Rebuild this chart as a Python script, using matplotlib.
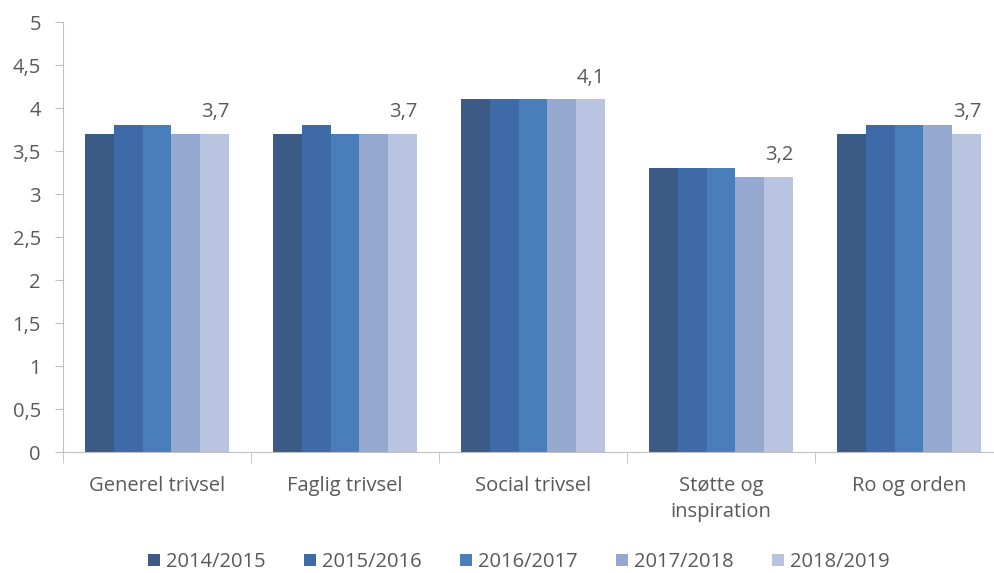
import matplotlib.pyplot as plt
import numpy as np

categories = ["Generel trivsel", "Faglig trivsel", "Social trivsel", "Støtte og\ninspiration", "Ro og orden"]
series = ["2014/2015", "2015/2016", "2016/2017", "2017/2018", "2018/2019"]
values = [
    [3.7, 3.7, 4.1, 3.3, 3.7],
    [3.8, 3.8, 4.1, 3.3, 3.8],
    [3.8, 3.7, 4.1, 3.3, 3.8],
    [3.7, 3.7, 4.1, 3.2, 3.8],
    [3.7, 3.7, 4.1, 3.2, 3.7],
]
colors = ["#3B5A85", "#3F6AA8", "#4A7EBB", "#95A9D0", "#B9C4E0"]

plt.rcParams["font.family"] = ["Open Sans", "DejaVu Sans"]
text_col = "#595959"
fs = 14.5

fig = plt.figure(figsize=(9.94, 5.73), dpi=100)
# plot area runs a little past the right edge of the picture, as in the original
ax = fig.add_axes([63 / 994, 121 / 573, 940 / 994, 430 / 573])

x = np.arange(len(categories))
group_w = 5 / 6.5
bw = group_w / len(series)
for i, (name, vals) in enumerate(zip(series, values)):
    pos = x - group_w / 2 + bw * (i + 0.5)
    bars = ax.bar(pos, vals, width=bw, color=colors[i], label=name)
    if i == len(series) - 1:
        ax.bar_label(bars, labels=[f"{v:.1f}".replace(".", ",") for v in vals],
                     padding=8.5, fontsize=fs, color=text_col)

ax.set_xlim(-0.5, len(categories) - 0.5)
ax.set_ylim(0, 5)
yt = np.arange(0, 5.01, 0.5)
ax.set_yticks(yt)
ax.set_yticklabels([f"{t:g}".replace(".", ",") for t in yt])
ax.set_xticks(x)
ax.set_xticklabels(categories, linespacing=1.45)
ax.set_xticks(np.arange(-0.5, len(categories)), minor=True)
ax.tick_params(axis="x", which="major", length=0, pad=17, labelsize=fs, labelcolor=text_col)
ax.tick_params(axis="x", which="minor", length=8, color="#BFBFBF")
ax.tick_params(axis="y", length=6, color="#BFBFBF", labelsize=fs, labelcolor=text_col, pad=10)
for s in ["top", "right"]:
    ax.spines[s].set_visible(False)
for s in ["left", "bottom"]:
    ax.spines[s].set_color("#BFBFBF")

leg = fig.legend(loc="center", bbox_to_anchor=(519 / 994, 11 / 573), ncol=5, frameon=False,
                 fontsize=fs, handlelength=0.6, handleheight=0.6, handletextpad=0.3,
                 columnspacing=1.9)
for t in leg.get_texts():
    t.set_color(text_col)

fig.savefig("out.png", dpi=100)
